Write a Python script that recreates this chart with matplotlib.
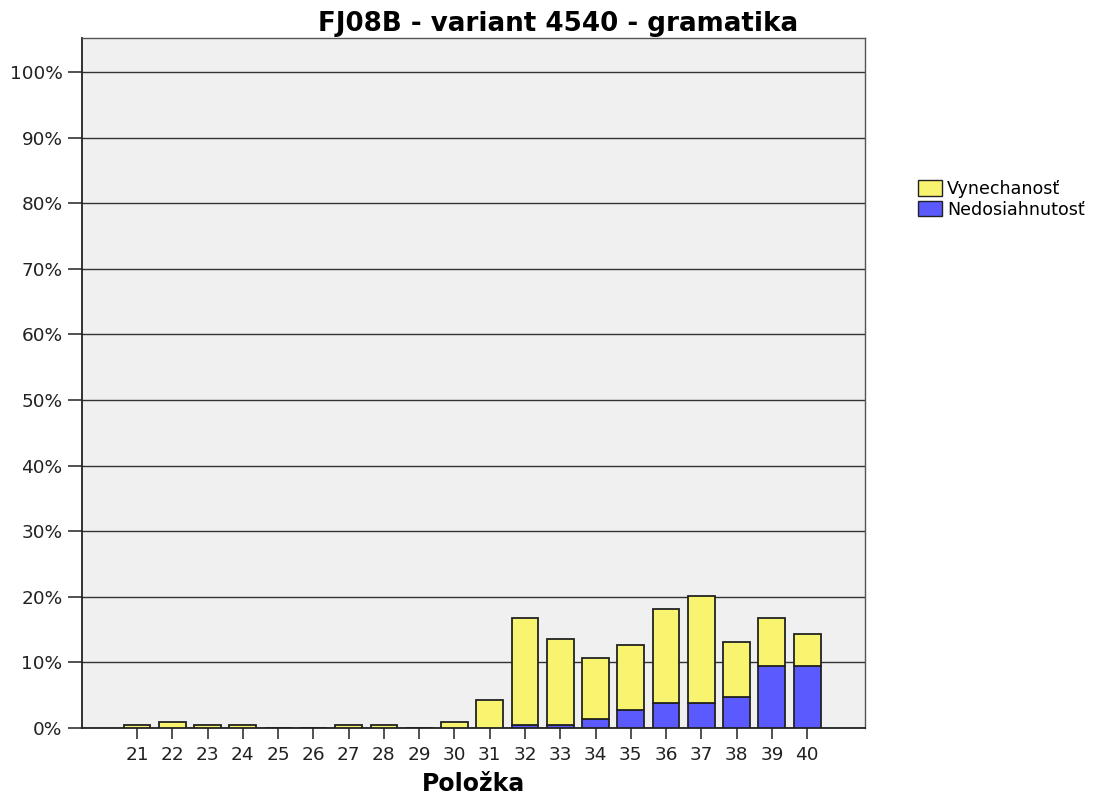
import matplotlib
matplotlib.use("Agg")
import matplotlib.pyplot as plt
from matplotlib.patches import Patch
import numpy as np

plt.rcParams['font.family'] = ['DejaVu Sans']

items = ['21', '22', '23', '24', '25', '26', '27', '28', '29', '30',
         '31', '32', '33', '34', '35', '36', '37', '38', '39', '40']
nedosiahnutost = [0, 0, 0, 0, 0, 0, 0, 0, 0, 0,
                  0, 0.5, 0.5, 1.3, 2.8, 3.8, 3.8, 4.7, 9.4, 9.4]
total = [0.4, 0.85, 0.4, 0.4, 0, 0, 0.4, 0.4, 0, 0.85,
         4.2, 16.8, 13.5, 10.7, 12.6, 18.2, 20.2, 13.1, 16.8, 14.4]
vynechanost = [t - n for t, n in zip(total, nedosiahnutost)]
yticks = [0, 10, 20, 30, 40, 50, 60, 70, 80, 90, 100]
ytick_labels = [f"{v}%" for v in yticks]

yellow = '#F8F470'
blue = '#5A5AFF'

fig = plt.figure(figsize=(11.03, 7.96), dpi=100)
ax = fig.add_axes([82/1103, 1 - 728/796, (865-82)/1103, (728-38)/796])
ax.set_facecolor('#F0F0F0')

x = np.arange(len(items))
ax.set_axisbelow(True)
ax.yaxis.grid(True, color='#333333', linewidth=1.0)
ax.bar(x, nedosiahnutost, width=0.76, color=blue, edgecolor='#222222', linewidth=1.3, zorder=3)
ax.bar(x, vynechanost, bottom=nedosiahnutost, width=0.76, color=yellow, edgecolor='#222222', linewidth=1.3, zorder=3)

ax.set_xlim(-1.56, 20.64)
ax.set_ylim(0, 105.2)
ax.set_yticks(yticks)
ax.set_yticklabels(ytick_labels, fontsize=13.3, color='#222222')
ax.set_xticks(x)
ax.set_xticklabels(items, fontsize=13.3, color='#222222')
ax.tick_params(axis='y', length=10, width=1.2, color='#333333', pad=4)
ax.tick_params(axis='x', length=8, width=1.2, color='#333333', pad=5)
for s in ['top', 'right']:
    ax.spines[s].set_color('#555555')
    ax.spines[s].set_linewidth(1.0)
for s in ['left', 'bottom']:
    ax.spines[s].set_color('#222222')
    ax.spines[s].set_linewidth(1.3)

ax.set_xlabel('Položka', fontsize=17, fontweight='bold', labelpad=6)
fig.text(558/1103, 1 - 24/796, 'FJ08B - variant 4540 - gramatika', ha='center', va='center',
         fontsize=18.8, fontweight='bold')

handles = [Patch(facecolor=yellow, edgecolor='#222222', label='Vynechanosť'),
           Patch(facecolor=blue, edgecolor='#222222', label='Nedosiahnutosť')]
fig.legend(handles=handles, loc='upper left', bbox_to_anchor=(918/1103, 1 - 180/796),
           frameon=False, fontsize=12.6, handlelength=1.35, handleheight=0.95,
           handletextpad=0.3, labelspacing=0.15, borderaxespad=0, borderpad=0)

fig.savefig('out.png', dpi=100)
